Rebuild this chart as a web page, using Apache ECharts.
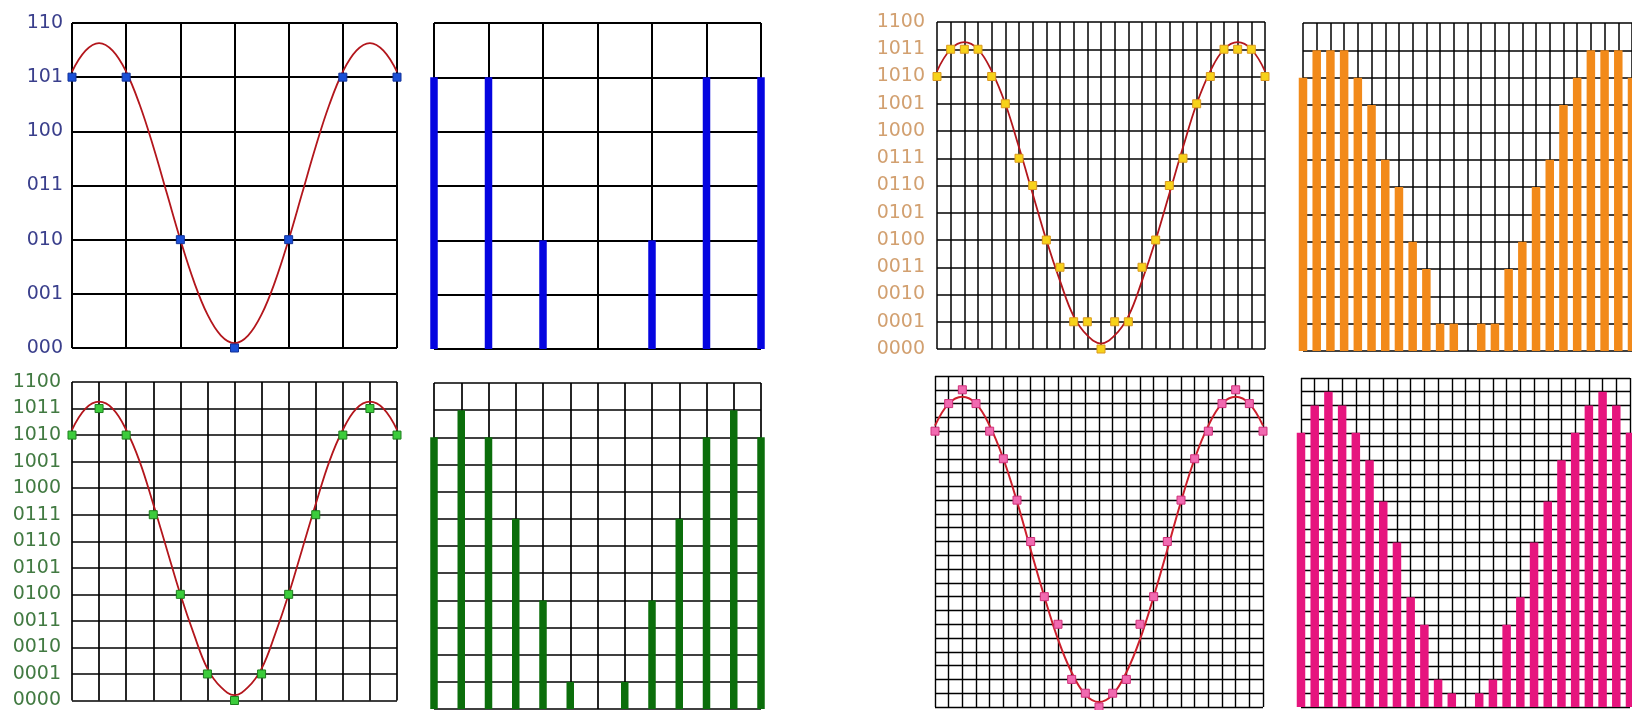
<!DOCTYPE html>
<html>
<head>
<meta charset="utf-8">
<script src="https://cdn.jsdelivr.net/npm/echarts@6/dist/echarts.min.js"></script>
<style>
    html, body { margin: 0; padding: 0; background: #fff; overflow: hidden; }
    #main { width: 1632px; height: 710px; }
</style>
</head>
<body>
<div id="main"></div>
<script>
// tick labels
var codes3 = ['000', '001', '010', '011', '100', '101', '110'];
var codes4 = ['0000', '0001', '0010', '0011', '0100', '0101', '0110', '0111', '1000', '1001', '1010', '1011', '1100'];

// quantized samples
var samples3 = [5, 5, 2, 0, 2, 5, 5];
var samples4 = [10, 11, 10, 7, 4, 1, 0, 1, 4, 7, 10, 11, 10];
var samples4fine = [10, 11, 11, 11, 10, 9, 7, 6, 4, 3, 1, 1, 0, 1, 1, 3, 4, 6, 7, 9, 10, 11, 11, 11, 10];
var samples5 = [20, 22, 23, 22, 20, 18, 15, 12, 8, 6, 2, 1, 0, 1, 2, 6, 8, 12, 15, 18, 20, 22, 23, 22, 20];

// analog signal (x step in brackets)
var analogA = [5.10, 5.49, 5.63, 5.49, 5.10, 4.49, 3.72, 2.86, 2.00, 1.23, 0.62, 0.23, 0.09, 0.23, 0.62, 1.23, 2.00, 2.86, 3.72, 4.49, 5.10, 5.49, 5.63, 5.49, 5.10]; // 0.25
var analogB = [10.2, 11.0, 11.26, 11.0, 10.2, 9.0, 7.4, 5.7, 4.0, 2.5, 1.2, 0.5, 0.2, 0.5, 1.2, 2.5, 4.0, 5.7, 7.4, 9.0, 10.2, 11.0, 11.26, 11.0, 10.2]; // 0.5
var analogC = [10.2, 11.0, 11.26, 11.0, 10.2, 9.0, 7.4, 5.7, 4.0, 2.5, 1.2, 0.5, 0.2, 0.5, 1.2, 2.5, 4.0, 5.7, 7.4, 9.0, 10.2, 11.0, 11.26, 11.0, 10.2]; // 1
var analogD = [20.4, 22.0, 22.5, 22.0, 20.4, 18.0, 14.9, 11.4, 8.0, 4.9, 2.5, 0.9, 0.36, 0.9, 2.5, 4.9, 8.0, 11.4, 14.9, 18.0, 20.4, 22.0, 22.5, 22.0, 20.4]; // 1

var option = {
    animation: false,
    backgroundColor: '#fff',
    grid: [],
    xAxis: [],
    yAxis: [],
    series: []
};

function addPanel(box, xMax, yMax, lineW, labels, labelColor, margin) {
    var idx = option.grid.length;
    var split = { show: true, lineStyle: { color: '#000', width: lineW } };
    option.grid.push({ left: box[0], top: box[1], width: box[2], height: box[3] });
    option.xAxis.push({
        type: 'value', gridIndex: idx, min: 0, max: xMax, interval: 1,
        axisLine: { show: false }, axisTick: { show: false }, axisLabel: { show: false },
        splitLine: split
    });
    var lab = { show: false };
    if (labels) {
        lab = {
            show: true, showMinLabel: true, showMaxLabel: true,
            color: labelColor, fontFamily: 'DejaVu Sans', fontSize: 19,
            margin: margin, padding: [0, 0, 10, 0],
            formatter: function (v) { return labels[Math.round(v)]; }
        };
    }
    option.yAxis.push({
        type: 'value', gridIndex: idx, min: 0, max: yMax, interval: 1,
        axisLine: { show: false }, axisTick: { show: false }, axisLabel: lab,
        splitLine: split
    });
    return idx;
}

function toPoints(arr, step) {
    var pts = [];
    for (var i = 0; i < arr.length; i++) {
        pts.push([i * step, arr[i]]);
    }
    return pts;
}

function addCurve(idx, arr, step, color, width) {
    option.series.push({
        type: 'line', xAxisIndex: idx, yAxisIndex: idx,
        data: toPoints(arr, step), smooth: 0.4, showSymbol: false,
        lineStyle: { color: color, width: width }, z: 3
    });
}

function addSamples(idx, arr, fill, border) {
    option.series.push({
        type: 'scatter', xAxisIndex: idx, yAxisIndex: idx,
        data: toPoints(arr, 1), symbol: 'rect', symbolSize: 8, clip: false,
        itemStyle: { color: fill, borderColor: border, borderWidth: 1, opacity: 1 }, z: 4
    });
}

function addBars(idx, arr, color, w) {
    option.series.push({
        type: 'bar', xAxisIndex: idx, yAxisIndex: idx,
        data: toPoints(arr, 1), barWidth: w, clip: false,
        itemStyle: { color: color }, z: 3
    });
}

// 3 bit, 6 samples
var p1 = addPanel([72, 23, 325, 325], 6, 6, 2, codes3, '#3a3f8c', 9);
addCurve(p1, analogA, 0.25, '#b3161c', 1.8);
addSamples(p1, samples3, '#1a4fd6', '#12329a');

var p2 = addPanel([434, 23, 327, 326], 6, 6, 2);
addBars(p2, samples3, '#0505e0', 7.5);

// 4 bit, 12 samples
var p3 = addPanel([72, 382, 325, 325], 12, 12, 1.7, codes4, '#427a42', 11);
addCurve(p3, analogB, 0.5, '#b3161c', 1.8);
addSamples(p3, samples4, '#3ccc3c', '#1e7e1e');

var p4 = addPanel([434, 383, 327, 326], 12, 12, 1.7);
addBars(p4, samples4, '#0b6e0b', 7.5);

// 4 bit, 24 samples
var p5 = addPanel([937, 22, 328, 327], 24, 12, 1.5, codes4, '#d2a070', 12);
addCurve(p5, analogC, 1, '#b3161c', 1.8);
addSamples(p5, samples4fine, '#f6d21a', '#dc9a20');

var p6 = addPanel([1303, 23, 329, 328], 24, 12, 1.5);
addBars(p6, samples4fine, '#f28a1a', 8.5);

// 24 levels, 24 samples
var p7 = addPanel([935, 376, 328, 331], 24, 24, 1.4);
addCurve(p7, analogD, 1, '#cc1f2c', 2);
addSamples(p7, samples5, '#f06ab0', '#d0307a');

var p8 = addPanel([1301, 378, 329, 329], 24, 24, 1.4);
addBars(p8, samples5, '#e6157e', 8.5);

var chart = echarts.init(document.getElementById('main'));
chart.setOption(option);
</script>
</body>
</html>
